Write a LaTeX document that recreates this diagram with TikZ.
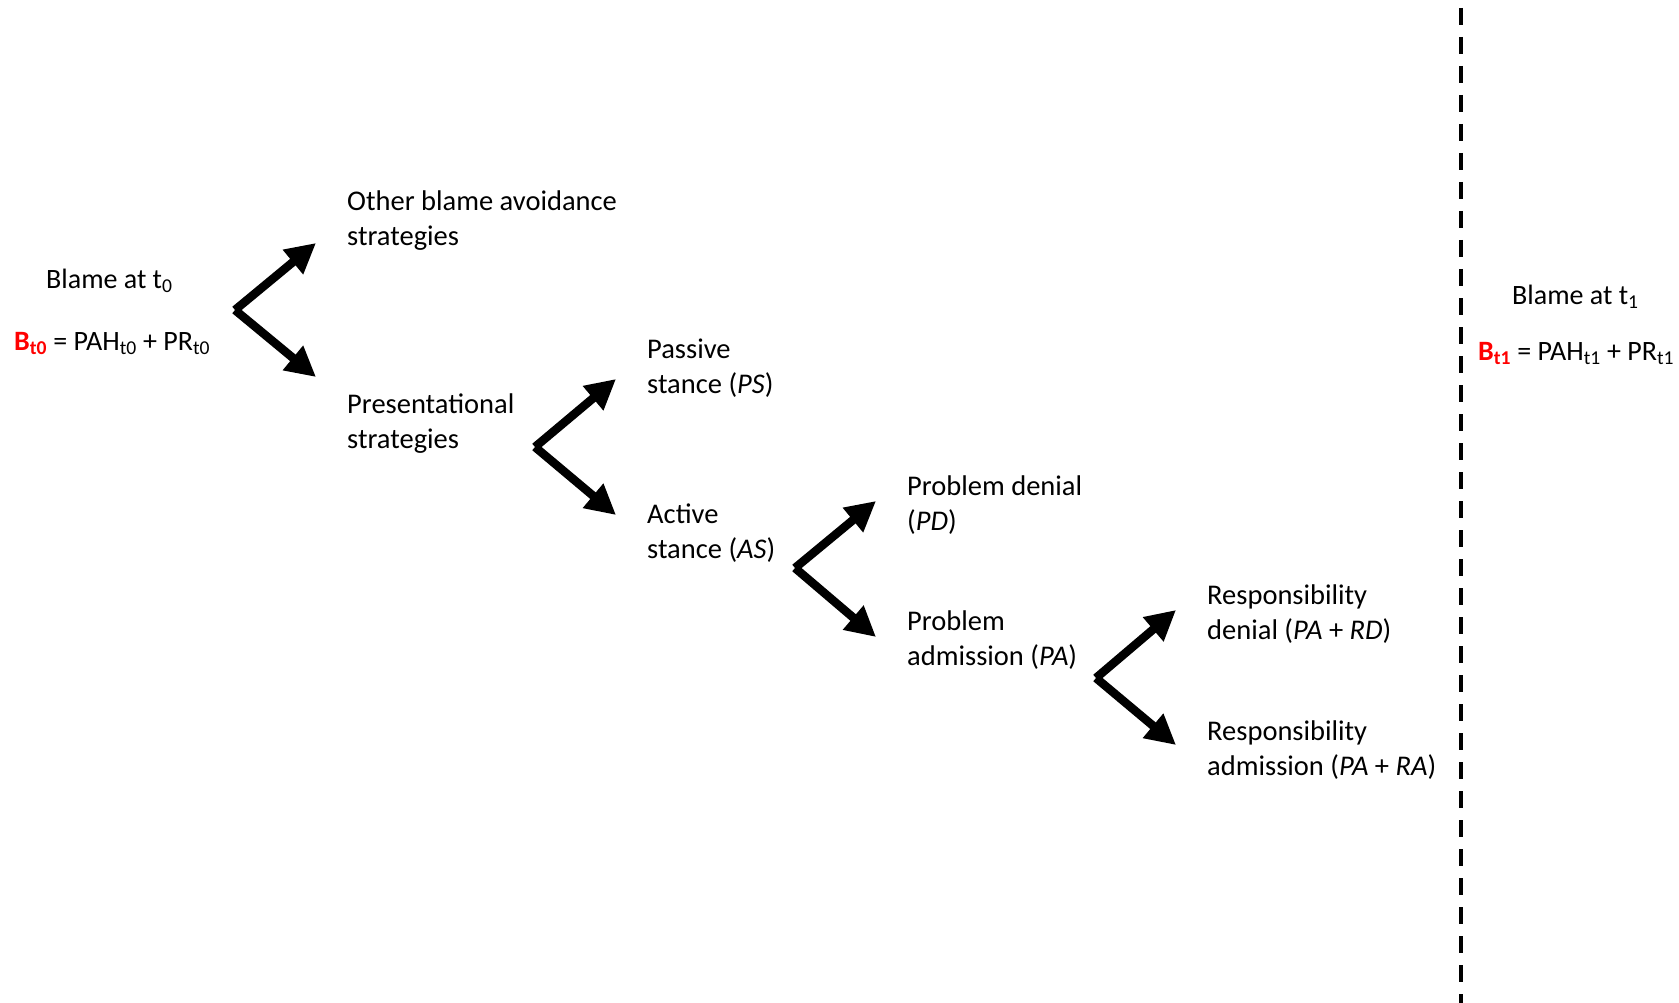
\documentclass[tikz,border=0pt]{standalone}
\usepackage{fontspec}
\setmainfont{Carlito}
\usetikzlibrary{arrows.meta}
\definecolor{bred}{RGB}{255,0,0}
\newcommand{\twolines}[2]{\begin{tabular}[t]{@{}l@{}}#1\\#2\end{tabular}}
\newcommand{\sbs}[1]{\textsubscript{#1}}
\begin{document}
\begin{tikzpicture}[x=1pt,y=-1pt,
  font=\fontsize{28.5}{35}\selectfont,
  lab/.style={anchor=base west,inner sep=0pt,align=left},
  eq/.style={anchor=base west,inner sep=0pt,font=\fontsize{28}{34}\selectfont},
  branch/.style={line width=8.5pt,-{Triangle[length=30pt,width=30pt]}},
  divider/.style={line width=4.5pt,dash pattern=on 17pt off 12pt}]
\useasboundingbox (0,0) rectangle (1679,1003);
% labels
\node[eq]  (b0)  at (46,288)  {Blame at t\sbs{0}};
\node[eq]  (e0)  at (14,350)  {\textcolor{bred}{\textbf{B\sbs{t0}}} = PAH\sbs{t0} + PR\sbs{t0}};
\node[lab] (oth) at (347,211) {\twolines{Other blame avoidance}{strategies}};
\node[lab] (pre) at (347,413) {\twolines{Presentational}{strategies}};
\node[lab] (ps)  at (647,358) {\twolines{Passive}{stance (\textit{PS})}};
\node[lab] (as)  at (647,523) {\twolines{Active}{stance (\textit{AS})}};
\node[lab] (pd)  at (907,495) {\twolines{Problem denial}{(\textit{PD})}};
\node[lab] (pa)  at (907,630) {\twolines{Problem}{admission (\textit{PA})}};
\node[lab] (rd)  at (1207,604) {\twolines{Responsibility}{denial (\textit{PA} + \textit{RD})}};
\node[lab] (ra)  at (1207,740) {\twolines{Responsibility}{admission (\textit{PA} + \textit{RA})}};
\node[eq]  (b1)  at (1512,304) {Blame at t\sbs{1}};
\node[eq]  (e1)  at (1478,360) {\textcolor{bred}{\textbf{B\sbs{t1}}} = PAH\sbs{t1} + PR\sbs{t1}};
% chevron points
\coordinate (v1) at (235,310);  \coordinate (v1u) at (316,243);  \coordinate (v1d) at (316,377);
\coordinate (v2) at (535,447);  \coordinate (v2u) at (616,379);  \coordinate (v2d) at (616,515);
\coordinate (v3) at (795,568);  \coordinate (v3u) at (876,501);  \coordinate (v3d) at (876,637);
\coordinate (v4) at (1096,678); \coordinate (v4u) at (1176,610); \coordinate (v4d) at (1176,745);
\foreach \v in {v1,v2,v3,v4}{
  \draw[branch] (\v) -- (\v u);
  \draw[branch] (\v) -- (\v d);
}
% divider
\coordinate (dtop) at (1461,8);
\coordinate (dbot) at (1461,1003);
\draw[divider] (dtop) -- (dbot);
\end{tikzpicture}
\end{document}
